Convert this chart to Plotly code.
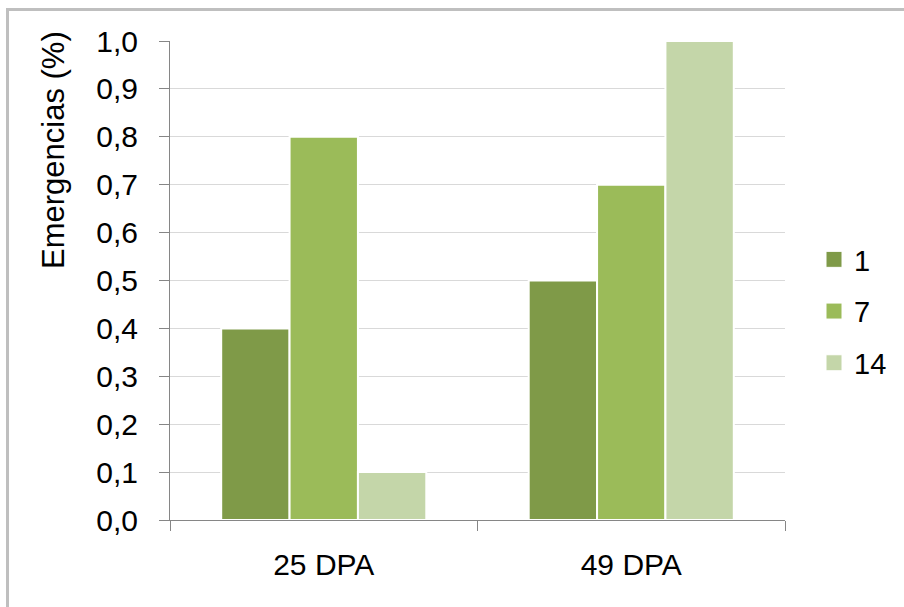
import plotly.graph_objects as go

categories = ["25 DPA", "49 DPA"]
series_names = ["1", "7", "14"]
values_1 = [0.4, 0.5]
values_7 = [0.8, 0.7]
values_14 = [0.1, 1.0]
y_ticks = [0.0, 0.1, 0.2, 0.3, 0.4, 0.5, 0.6, 0.7, 0.8, 0.9, 1.0]

colors = ["#7f9a48", "#9bbb59", "#c4d6a9"]
FONT = "Liberation Sans, Arial, sans-serif"

fig = go.Figure()
for name, vals, col in zip(series_names, [values_1, values_7, values_14], colors):
    fig.add_trace(go.Bar(
        x=categories, y=vals, name=name, legendgroup=name, showlegend=False,
        marker=dict(color=col, line=dict(color="white", width=2)),
    ))
# legend entries with larger square swatches
for name, col in zip(series_names, colors):
    fig.add_trace(go.Scatter(
        x=[None], y=[None], mode="markers", name=name, legendgroup=name,
        marker=dict(symbol="square", size=16, color=col,
                    line=dict(color="white", width=1)),
    ))

L, R, T, B = 170, 119, 41, 87
W, H = 904, 607
pw, ph = W - L - R, H - T - B

def px_x(p):
    return (p - L) / pw

def px_y(p):
    return (H - B - p) / ph

fig.update_layout(
    width=W, height=H,
    margin=dict(l=L, r=R, t=T, b=B, pad=0, autoexpand=False),
    paper_bgcolor="white", plot_bgcolor="white",
    barmode="group", bargap=0.333, bargroupgap=0,
    separators=", ",
    font=dict(family=FONT, size=30, color="#000000"),
    showlegend=True,
    legend=dict(
        x=px_x(814), y=px_y(234), xanchor="left", yanchor="top",
        font=dict(size=29), traceorder="grouped", tracegroupgap=11,
        itemwidth=30, bgcolor="rgba(0,0,0,0)",
    ),
    xaxis=dict(
        showline=True, linecolor="#868686", linewidth=1,
        ticks="outside", ticklen=10, tickcolor="#868686", tickson="boundaries",
        showgrid=False, tickfont=dict(size=30), ticklabelstandoff=18,
        automargin=False,
    ),
    yaxis=dict(
        range=[0, 1.0], tickvals=y_ticks, tickformat=".1f",
        showline=True, linecolor="#868686", linewidth=1,
        ticks="outside", ticklen=10, tickcolor="#868686",
        showgrid=True, gridcolor="#d9d9d9", gridwidth=1,
        tickfont=dict(size=30), ticklabelstandoff=15, zeroline=False,
        automargin=False,
    ),
    annotations=[dict(
        text="Emergencias (%)", textangle=-90, showarrow=False,
        xref="paper", yref="paper", x=px_x(53), y=px_y(150),
        xanchor="center", yanchor="middle", font=dict(size=31),
    )],
    shapes=[
        dict(type="line", xref="paper", yref="paper",
             x0=px_x(7.5), x1=px_x(7.5), y0=px_y(8), y1=px_y(620),
             line=dict(color="#bfbfbf", width=3)),
        dict(type="line", xref="paper", yref="paper",
             x0=px_x(6), x1=px_x(920), y0=px_y(9.5), y1=px_y(9.5),
             line=dict(color="#bfbfbf", width=3)),
    ],
)

fig.write_html("out.html", config={"displayModeBar": False},
               post_script="document.body.style.margin='0';")
